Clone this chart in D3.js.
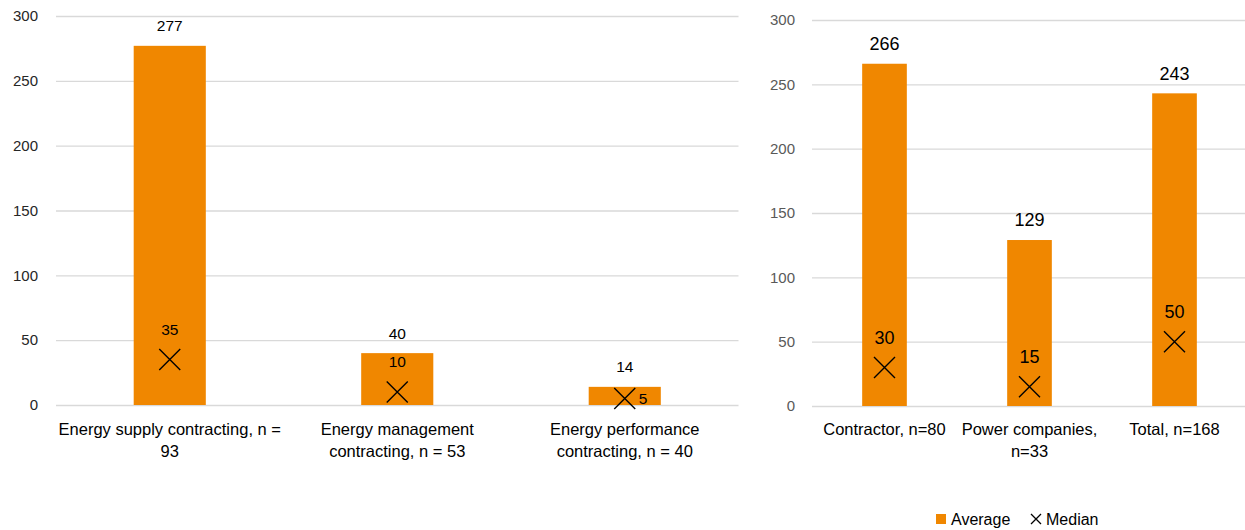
<!DOCTYPE html>
<html>
<head>
<meta charset="utf-8">
<script src="https://cdn.jsdelivr.net/npm/d3@7"></script>
<style>
  body { margin: 0; background: #fff; }
  svg { display: block; font-family: "Liberation Sans", Arial, sans-serif; }
</style>
</head>
<body>
<svg id="chart" width="1245" height="530"></svg>
<script>
// ---- data ----
const leftCategories = ["Energy supply contracting, n =\n93", "Energy management\ncontracting, n = 53", "Energy performance\ncontracting, n = 40"];
const leftAverage = [277, 40, 14];
const leftMedian = [35, 10, 5];

const rightCategories = ["Contractor, n=80", "Power companies,\nn=33", "Total, n=168"];
const rightAverage = [266, 129, 243];
const rightMedian = [30, 15, 50];

const yTicks = [0, 50, 100, 150, 200, 250, 300];
const legendLabels = ["Average", "Median"];

const ORANGE = "#F08700";
const GRID = "#d9d9d9";

const svg = d3.select("#chart");

function drawX(g, cx, cy, half, sw) {
  const p = d3.path();
  p.moveTo(cx - half, cy - half); p.lineTo(cx + half, cy + half);
  p.moveTo(cx + half, cy - half); p.lineTo(cx - half, cy + half);
  g.append("path").attr("d", p.toString()).attr("stroke", "#000").attr("stroke-width", sw).attr("fill", "none");
}

function panel(opts) {
  const { cats, avg, med, x0, x1, y0, y1, pad, tickColor, tickPad, dataFont, catFont, catBase, catLineH } = opts;
  const x = d3.scaleBand().domain(cats).range([x0, x1]).paddingInner(pad).paddingOuter(pad / 2);
  const y = d3.scaleLinear().domain([0, 300]).range([y0, y1]);
  const g = svg.append("g");

  const ax = g.append("g").attr("transform", `translate(${x0},0)`)
    .call(d3.axisLeft(y).tickValues(yTicks).tickSize(-(x1 - x0)).tickPadding(tickPad).tickFormat(d3.format("d")));
  ax.select(".domain").remove();
  ax.selectAll(".tick line").attr("stroke", GRID).attr("stroke-width", 1.3);
  ax.selectAll(".tick text").attr("fill", tickColor).style("font-size", "15px");

  const bw = x.bandwidth();
  cats.forEach((c, i) => {
    const bx = x(c);
    g.append("rect").attr("x", bx).attr("y", y(avg[i])).attr("width", bw).attr("height", y(0) - y(avg[i])).attr("fill", ORANGE);
    const cx = bx + bw / 2;
    g.append("text").attr("x", cx).attr("y", y(avg[i]) - 20).attr("dy", "0.35em")
      .attr("text-anchor", "middle").style("font-size", dataFont + "px").attr("fill", "#000").text(avg[i]);
    const my = y(med[i]);
    drawX(g, cx, my, 10.5, 1.4);
    const barH = y(0) - y(avg[i]);
    if (barH < 30) {
      g.append("text").attr("x", cx + 14).attr("y", my).attr("dy", "0.35em")
        .style("font-size", dataFont + "px").attr("fill", "#000").text(med[i]);
    } else {
      g.append("text").attr("x", cx).attr("y", my - 30).attr("dy", "0.35em")
        .attr("text-anchor", "middle").style("font-size", dataFont + "px").attr("fill", "#000").text(med[i]);
    }
    const lines = c.split("\n");
    const t = g.append("text").attr("text-anchor", "middle").style("font-size", catFont + "px").attr("fill", "#000");
    lines.forEach((ln, k) => {
      t.append("tspan").attr("x", cx).attr("y", catBase + k * catLineH).text(ln);
    });
  });
}

panel({ cats: leftCategories, avg: leftAverage, med: leftMedian, x0: 56, x1: 738.5, y0: 405, y1: 16,
  pad: 0.683, tickColor: "#262626", tickPad: 18, dataFont: 15.5, catFont: 16.5, catBase: 435, catLineH: 22 });
panel({ cats: rightCategories, avg: rightAverage, med: rightMedian, x0: 812, x1: 1247, y0: 406, y1: 20,
  pad: 0.692, tickColor: "#595959", tickPad: 17, dataFont: 18, catFont: 16.5, catBase: 435, catLineH: 22 });

// legend
const lg = svg.append("g");
lg.append("rect").attr("x", 936).attr("y", 514).attr("width", 10).attr("height", 10).attr("fill", ORANGE);
lg.append("text").attr("x", 951).attr("y", 525).style("font-size", "16px").attr("fill", "#000").text(legendLabels[0]);
drawX(lg, 1036, 519, 5, 1.3);
lg.append("text").attr("x", 1046).attr("y", 525).style("font-size", "16px").attr("fill", "#000").text(legendLabels[1]);
</script>
</body>
</html>
